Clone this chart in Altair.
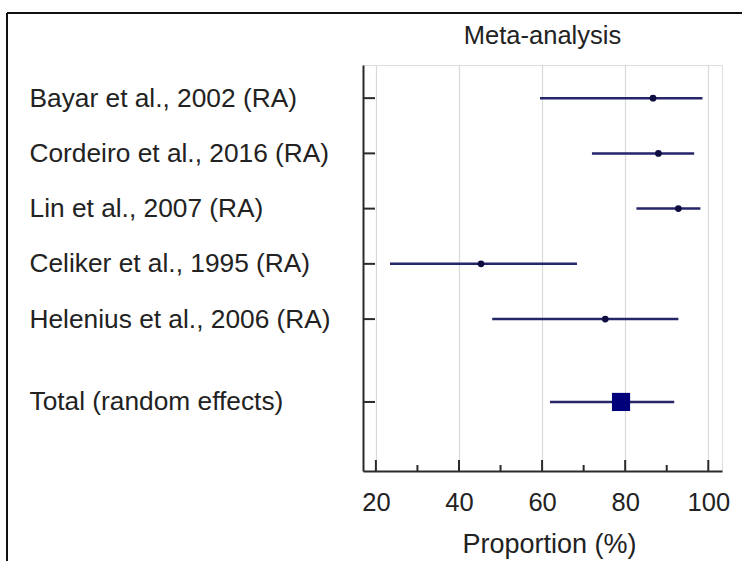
import altair as alt
import pandas as pd

studies = ["Bayar et al., 2002 (RA)", "Cordeiro et al., 2016 (RA)", "Lin et al., 2007 (RA)",
           "Celiker et al., 1995 (RA)", "Helenius et al., 2006 (RA)", "Total (random effects)"]
rows = [1, 2, 3, 4, 5, 6.5]
estimate = [86.7, 88.0, 92.8, 45.3, 75.2, 79.0]
lower = [59.5, 72.0, 82.7, 23.4, 48.0, 61.9]
upper = [98.6, 96.6, 98.1, 68.4, 92.8, 91.8]
is_total = [False, False, False, False, False, True]

x_major = [20, 40, 60, 80, 100]
x_minor = [30, 50, 70, 90]

FONT = "Liberation Sans"
W, H = 359, 406
NAVY = "#25256a"
AX = "#2a2a2a"

df = pd.DataFrame({"study": studies, "row": rows, "est": estimate,
                   "lo": lower, "hi": upper, "total": is_total})
studies_df = df[~df["total"]]
total_df = df[df["total"]]

xscale = alt.Scale(domain=[16.9, 103.3], nice=False, zero=False)
yscale = alt.Scale(domain=[0.4, 7.75], nice=False, zero=False, reverse=True)

label_expr = " : ".join(f"datum.value == {r} ? '{s}'" for r, s in zip(rows, studies)) + " : ''"

xaxis = alt.Axis(values=x_major, ticks=False, grid=True, gridColor="#d9d9d9",
                 gridWidth=1.2, domainColor=AX, domainWidth=2,
                 labelFont=FONT, labelFontSize=25.5, labelColor="#222",
                 labelPadding=19, titleFont=FONT, titleFontSize=27,
                 titleFontWeight="normal", titleColor="#222", titlePadding=16,
                 titleX=186, titleAlign="center")
yaxis = alt.Axis(values=rows, labelExpr=label_expr, ticks=False, grid=False,
                 domainColor=AX, domainWidth=2, labelAlign="left",
                 labelPadding=334, labelFont=FONT, labelFontSize=26.3,
                 labelColor="#222", labelLimit=400)
XT = "Proportion (%)"


def X(f):
    return alt.X(f, scale=xscale, axis=xaxis, title=XT)


def Y(f):
    return alt.Y(f, scale=yscale, axis=yaxis, title=None)


ci = alt.Chart(df).mark_rule(color=NAVY, strokeWidth=2.5).encode(
    x=X("lo:Q"), x2="hi:Q", y=Y("row:Q"))

pts = alt.Chart(studies_df).mark_circle(color="#0d0d40", opacity=1, size=45).encode(
    x=X("est:Q"), y=Y("row:Q"))

tot = alt.Chart(total_df).mark_square(color="#00007a", opacity=1, size=330).encode(
    x=X("est:Q"), y=Y("row:Q"))

xt_major = alt.Chart(pd.DataFrame({"v": x_major})).mark_rule(color=AX, strokeWidth=2).encode(
    x=X("v:Q"), y=alt.value(H), y2=alt.value(H - 11))
xt_minor = alt.Chart(pd.DataFrame({"v": x_minor})).mark_rule(color=AX, strokeWidth=2).encode(
    x=X("v:Q"), y=alt.value(H), y2=alt.value(H - 6))
yt = alt.Chart(df).mark_rule(color=AX, strokeWidth=2).encode(
    y=Y("row:Q"), x=alt.value(0), x2=alt.value(12))

one = pd.DataFrame({"a": [0]})
frame_top = alt.Chart(one).mark_rule(color="#111", strokeWidth=2).encode(
    x=alt.value(-356), x2=alt.value(420), y=alt.value(-52))
frame_left = alt.Chart(one).mark_rule(color="#111", strokeWidth=2).encode(
    x=alt.value(-356), y=alt.value(-52), y2=alt.value(520))

chart = alt.layer(ci, xt_major, xt_minor, yt, pts, tot, frame_top, frame_left).properties(
    width=W, height=H,
    title=alt.TitleParams("Meta-analysis", font=FONT, fontSize=25.5, fontWeight="normal",
                          color="#222", anchor="middle", offset=-57, frame="group",
                          baseline="alphabetic"),
    autosize=alt.AutoSizeParams(type="none"),
    padding={"left": 363, "top": 65, "right": 20, "bottom": 90},
).configure_view(strokeWidth=0).configure(background="white")

chart.save("out.html", embed_options={"renderer": "svg", "actions": False})
